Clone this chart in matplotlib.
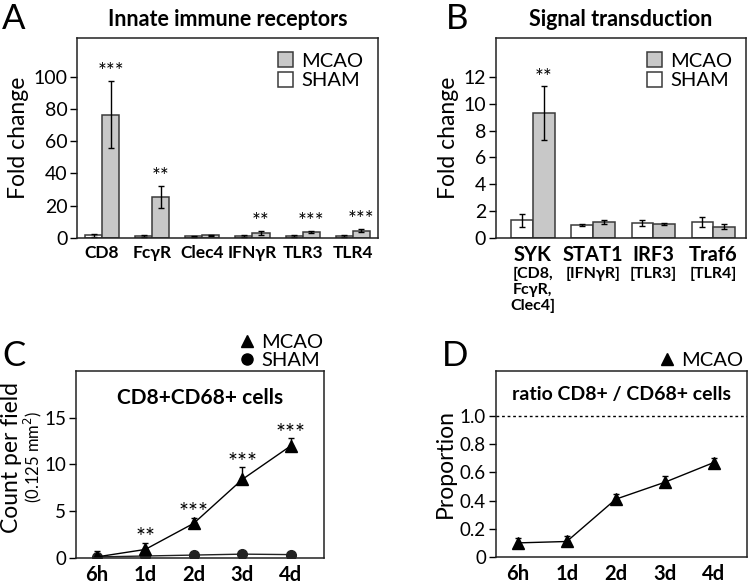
import matplotlib.pyplot as plt
from matplotlib.lines import Line2D
import numpy as np

plt.rcParams['font.family'] = ['Lato', 'DejaVu Sans']

# A - innate immune receptors
a_genes = ['CD8', 'FcγR', 'Clec4', 'IFNγR', 'TLR3', 'TLR4']
a_sham = [1.5, 1.0, 1.0, 1.0, 1.0, 1.0]
a_sham_err = [1.0, 0.5, 0.3, 0.6, 0.5, 0.6]
a_mcao = [76.5, 25.5, 1.5, 3.0, 3.6, 4.5]
a_mcao_err = [21.0, 7.0, 0.4, 1.5, 0.8, 1.0]
a_stars = ['***', '**', '', '**', '***', '***']

# B - signal transduction
b_genes = ['SYK', 'STAT1', 'IRF3', 'Traf6']
b_sub = ['[CD8,\nFcγR,\nClec4]', '[IFNγR]', '[TLR3]', '[TLR4]']
b_sham = [1.3, 0.97, 1.1, 1.2]
b_sham_err = [0.5, 0.06, 0.22, 0.35]
b_mcao = [9.3, 1.2, 1.03, 0.85]
b_mcao_err = [2.0, 0.15, 0.05, 0.17]
b_stars = ['**', '', '', '']

# C - CD8+CD68+ cells
times = ['6h', '1d', '2d', '3d', '4d']
c_mcao = [0.1, 0.9, 3.7, 8.4, 12.0]
c_mcao_err = [0.6, 0.7, 0.6, 1.3, 0.8]
c_sham = [0.1, 0.2, 0.3, 0.4, 0.35]
c_stars = ['', '**', '***', '***', '***']

# D - ratio
d_ratio = [0.10, 0.11, 0.41, 0.53, 0.67]
d_err = [0.035, 0.04, 0.04, 0.045, 0.03]

gray = '#c8c8c8'
edge = '#3a3a3a'

fig = plt.figure(figsize=(7.5, 5.86), dpi=100)
axA = fig.add_axes([0.1027, 0.594, 0.401, 0.341])
axB = fig.add_axes([0.661, 0.594, 0.334, 0.341])
axC = fig.add_axes([0.101, 0.048, 0.331, 0.319])
axD = fig.add_axes([0.661, 0.0495, 0.335, 0.3175])


def style(ax, ysize=14):
    for s in ax.spines.values():
        s.set_linewidth(1.1)
        s.set_color('#222222')
    ax.tick_params(axis='y', labelsize=ysize, length=5, width=1, pad=2)
    ax.tick_params(axis='x', length=0, pad=5)


def bars(ax, genes, sham, sham_err, mcao, mcao_err, stars, w, xsize):
    x = np.arange(len(genes))
    ek = dict(ecolor='black', elinewidth=1, capsize=2.5, capthick=1)
    b1 = ax.bar(x - w / 2, sham, w, yerr=sham_err, color='white', edgecolor=edge,
                linewidth=1.1, error_kw=ek, label='SHAM')
    b2 = ax.bar(x + w / 2, mcao, w, yerr=mcao_err, color=gray, edgecolor=edge,
                linewidth=1.1, error_kw=ek, label='MCAO')
    for i, s in enumerate(stars):
        if s:
            ax.annotate(s, (x[i] + w / 2, mcao[i] + mcao_err[i]), xytext=(0, -1),
                        textcoords='offset points', ha='center', va='bottom', fontsize=15)
    ax.set_xticks(x)
    ax.set_xticklabels(genes, fontsize=xsize, fontweight='bold')
    ax.legend([b2, b1], ['MCAO', 'SHAM'], loc='upper right', frameon=False,
              fontsize=14.5, handlelength=0.75, handleheight=0.75, handletextpad=0.4,
              labelspacing=0.12, borderaxespad=0.3)
    return x


# panel A
style(axA)
bars(axA, a_genes, a_sham, a_sham_err, a_mcao, a_mcao_err, a_stars, 0.34, 12.5)
axA.set_xlim(-0.5, 5.5)
axA.set_ylim(0, 124)
axA.set_yticks([0, 20, 40, 60, 80, 100])
axA.set_ylabel('Fold change', fontsize=16.5, labelpad=3)
axA.set_title('Innate immune receptors', fontsize=15.5, fontweight='bold', pad=9)

# panel B
style(axB)
xb = bars(axB, b_genes, b_sham, b_sham_err, b_mcao, b_mcao_err, b_stars, 0.36, 14.5)
axB.set_xlim(-0.62, 3.55)
axB.set_ylim(0, 14.9)
axB.set_yticks([0, 2, 4, 6, 8, 10, 12])
axB.set_ylabel('Fold change', fontsize=16.5, labelpad=3)
axB.set_title('Signal transduction', fontsize=15.5, fontweight='bold', pad=9)
for i, s in enumerate(b_sub):
    axB.annotate(s, (xb[i], 0), xycoords=('data', 'axes fraction'), xytext=(0, -21),
                 textcoords='offset points', ha='center', va='top', fontsize=11.5,
                 fontweight='bold', linespacing=1.15)

# panel C
style(axC, 13.5)
xc = np.arange(len(times))
axC.errorbar(xc, c_mcao, yerr=[np.zeros(5), c_mcao_err], color='black', lw=1,
             marker='^', ms=8, capsize=2.5, elinewidth=1)
axC.plot(xc, c_sham, color='#222222', lw=1, marker='o', ms=7)
for i, s in enumerate(c_stars):
    if s:
        axC.annotate(s, (xc[i], c_mcao[i] + c_mcao_err[i]), xytext=(0, -4),
                     textcoords='offset points', ha='center', va='bottom', fontsize=17)
axC.set_xlim(-0.43, 4.68)
axC.set_ylim(0, 20)
axC.set_yticks([0, 5, 10, 15])
axC.set_xticks(xc)
axC.set_xticklabels(times, fontsize=14.5, fontweight='bold')
axC.text(0.5, 0.856, 'CD8+CD68+ cells', transform=axC.transAxes, ha='center',
         va='center', fontsize=15, fontweight='bold')
h_tri = Line2D([], [], color='black', marker='^', ms=9, ls='none')
h_dot = Line2D([], [], color='black', marker='o', ms=8, ls='none')
axC.legend([h_tri, h_dot], ['MCAO', 'SHAM'], loc='lower left', bbox_to_anchor=(0.65, 1.0),
           frameon=False, fontsize=14.5, handlelength=0.8, handletextpad=0.3,
           labelspacing=0.05, borderaxespad=0, borderpad=0.1)
fig.text(0.015, 0.22, 'Count per field', rotation=90, ha='center', va='center', fontsize=16.5)
fig.text(0.044, 0.22, '(0.125 mm$^2$)', rotation=90, ha='center', va='center', fontsize=12)

# panel D
style(axD, 13.5)
axD.errorbar(xc, d_ratio, yerr=[np.zeros(5), d_err], color='black', lw=1,
             marker='^', ms=8, capsize=2.5, elinewidth=1)
axD.axhline(1.0, color='black', lw=1, ls=(0, (2, 2)))
axD.set_xlim(-0.45, 4.68)
axD.set_ylim(0, 1.32)
axD.set_yticks([0, 0.2, 0.4, 0.6, 0.8, 1.0])
axD.set_yticklabels(['0', '0.2', '0.4', '0.6', '0.8', '1.0'])
axD.set_xticks(xc)
axD.set_xticklabels(times, fontsize=14.5, fontweight='bold')
axD.set_ylabel('Proportion', fontsize=16.5, labelpad=3)
axD.text(0.5, 0.876, 'ratio CD8+ / CD68+ cells', transform=axD.transAxes, ha='center',
         va='center', fontsize=14, fontweight='bold')
axD.legend([h_tri], ['MCAO'], loc='lower left', bbox_to_anchor=(0.64, 1.0),
           frameon=False, fontsize=14.5, handlelength=0.8, handletextpad=0.3,
           borderaxespad=0, borderpad=0.1)

# panel letters
for lab, x, y in [('A', 0.003, 0.995), ('B', 0.594, 0.995), ('C', 0.003, 0.42), ('D', 0.589, 0.42)]:
    fig.text(x, y, lab, fontsize=25, ha='left', va='top')

fig.savefig('out.png', dpi=100)
